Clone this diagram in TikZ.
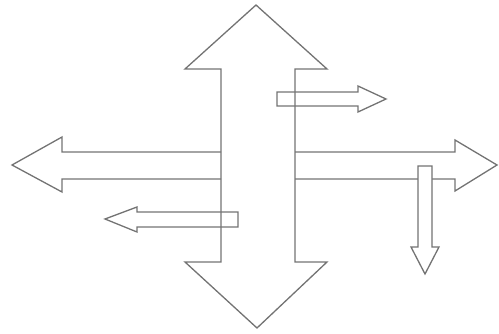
\documentclass[tikz,border=0pt]{standalone}
\begin{document}
\begin{tikzpicture}[x=1pt,y=-1pt,
  outline/.style={draw=black!55,line width=1.3pt,line join=miter}]
\useasboundingbox (0,0) rectangle (499,334);
% big vertical double arrow
\draw[outline] (256,5) -- (327,69) -- (295,69) -- (295,262) -- (327,262) -- (257,328)
  -- (185,262) -- (221,262) -- (221,69) -- (185,69) -- cycle;
% big left arrow
\draw[outline] (221,152) -- (62,152) -- (62,137) -- (12,165) -- (62,192) -- (62,179) -- (221,179);
% big right arrow
\draw[outline] (295,152) -- (455,152) -- (455,140) -- (497,165) -- (455,191) -- (455,179) -- (295,179);
% small upper right arrow
\draw[outline] (277,92) -- (358,92) -- (358,86) -- (386,99) -- (358,112) -- (358,106) -- (277,106) -- cycle;
% small lower left arrow
\draw[outline] (238,212) -- (137,212) -- (137,207) -- (105,219) -- (137,232) -- (137,227) -- (238,227) -- cycle;
% small down arrow
\draw[outline,fill=white] (418,166) -- (432,166) -- (432,247) -- (439,247) -- (425,274) -- (411,247) -- (418,247) -- cycle;
\end{tikzpicture}
\end{document}
